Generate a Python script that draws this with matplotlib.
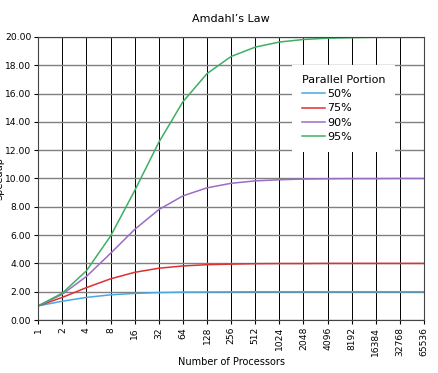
import numpy as np
import matplotlib.pyplot as plt

processors = [1, 2, 4, 8, 16, 32, 64, 128, 256, 512, 1024, 2048, 4096,
              8192, 16384, 32768, 65536]
p50 = [1.00, 1.33, 1.60, 1.78, 1.88, 1.94, 1.97, 1.98, 1.99, 2.00, 2.00,
       2.00, 2.00, 2.00, 2.00, 2.00, 2.00]
p75 = [1.00, 1.60, 2.29, 2.91, 3.37, 3.66, 3.82, 3.91, 3.95, 3.98, 3.99,
       3.99, 4.00, 4.00, 4.00, 4.00, 4.00]
p90 = [1.00, 1.82, 3.08, 4.71, 6.40, 7.80, 8.77, 9.34, 9.66, 9.83, 9.91,
       9.96, 9.98, 9.99, 9.99, 10.00, 10.00]
p95 = [1.00, 1.90, 3.48, 5.93, 9.14, 12.55, 15.42, 17.41, 18.62, 19.28,
       19.64, 19.82, 19.91, 19.95, 19.98, 19.99, 19.99]

fig = plt.figure(figsize=(4.39, 3.73), dpi=100)
ax = fig.add_axes([0.087, 0.142, 0.879, 0.759])

ax.plot(processors, p50, color='#4aa8e0', lw=1.1, label='50%')
ax.plot(processors, p75, color='#e03030', lw=1.1, label='75%')
ax.plot(processors, p90, color='#9b6cc6', lw=1.1, label='90%')
ax.plot(processors, p95, color='#3cb062', lw=1.1, label='95%')

ax.set_xscale('log', base=2)
ax.set_xlim(1, 65536)
ax.set_ylim(0, 20)
ax.set_xticks(processors)
ax.set_xticklabels([str(n) for n in processors], rotation=90)
ax.minorticks_off()
ax.set_yticks(np.arange(0, 21, 2))
ax.set_yticklabels(['%.2f' % v for v in np.arange(0, 21, 2)])
ax.tick_params(labelsize=6.6, length=3, pad=2)

ax.xaxis.grid(True, color='black', lw=0.7)
ax.yaxis.grid(True, color='#808080', lw=1.0)
ax.set_axisbelow(True)
for s in ax.spines.values():
    s.set_color('#444444')
    s.set_linewidth(0.8)

ax.set_title("Amdahl\u2019s Law", fontsize=8, pad=11)
ax.set_xlabel('Number of Processors', fontsize=7)
ax.xaxis.set_label_coords(0.5, -0.13)
ax.set_ylabel('Speedup', fontsize=7)
ax.yaxis.set_label_coords(-0.087, 0.5)

leg = ax.legend(title='Parallel Portion', fontsize=8, title_fontsize=8,
                loc='upper right', bbox_to_anchor=(0.94, 0.922),
                frameon=True, handlelength=2.1, handletextpad=0.2,
                labelspacing=0.4, borderpad=0.9, alignment='left')
leg.get_frame().set_edgecolor('none')
leg.get_frame().set_facecolor('white')
leg.get_frame().set_alpha(1)
leg.get_frame().set_boxstyle('square', pad=0)

fig.savefig('out.png', dpi=100)
